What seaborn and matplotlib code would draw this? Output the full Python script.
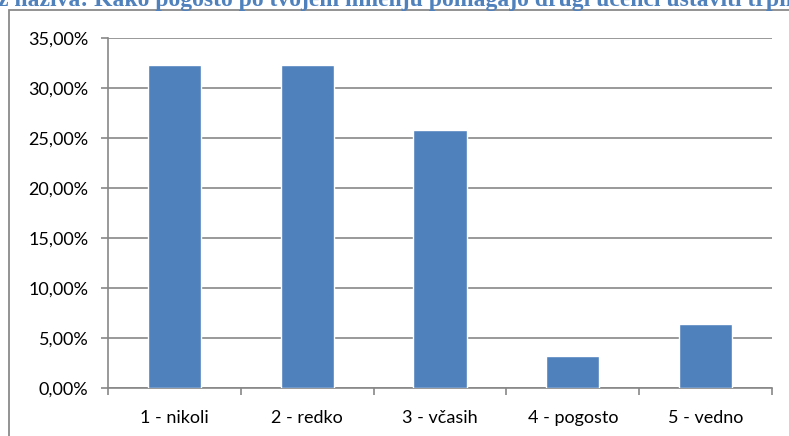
import matplotlib
matplotlib.use("Agg")
import matplotlib.pyplot as plt
import seaborn as sns
import pandas as pd
from matplotlib.patches import Rectangle
from matplotlib.ticker import MultipleLocator, FuncFormatter

categories = ["1 - nikoli", "2 - redko", "3 - včasih", "4 - pogosto", "5 - vedno"]
values = [32.26, 32.26, 25.81, 3.23, 6.45]
title_text = "z naziva: Kako pogosto po tvojem mnenju pomagajo drugi učenci ustaviti trpinčenje?"

df = pd.DataFrame({"cat": categories, "val": values})

sns.set_style("white")
plt.rcParams["font.family"] = ["Lato", "DejaVu Sans"]

W, H = 789, 436
fig = plt.figure(figsize=(W / 100, H / 100), dpi=100)
ax = fig.add_axes([108 / W, 1 - 388 / H, (772 - 108) / W, (388 - 38) / H])

sns.barplot(data=df, x="cat", y="val", color="#4F81BD", width=0.4, ax=ax,
            saturation=1, zorder=3)

grid_c = "#878787"
ax.set_ylim(0, 35)
ax.set_xlim(-0.5, len(categories) - 0.5)
ax.yaxis.set_major_locator(MultipleLocator(5))
ax.yaxis.set_major_formatter(FuncFormatter(lambda v, p: f"{v:.2f}%".replace(".", ",")))
ax.grid(axis="y", color=grid_c, linewidth=1.2, zorder=0)
ax.set_axisbelow(True)
for s in ["top", "right"]:
    ax.spines[s].set_visible(False)
for s in ["left", "bottom"]:
    ax.spines[s].set_color(grid_c)
    ax.spines[s].set_linewidth(1.2)
ax.set_xlabel("")
ax.set_ylabel("")

# x ticks at category boundaries, labels at centers
ax.set_xticks([i - 0.5 for i in range(len(categories) + 1)])
ax.set_xticklabels([])
ax.set_xticks(range(len(categories)), minor=True)
ax.set_xticklabels(categories, minor=True)
ax.tick_params(axis="x", which="major", length=5, width=1.2, color=grid_c, direction="out")
ax.tick_params(axis="x", which="minor", length=0, pad=16, labelsize=13, labelcolor="black")
ax.tick_params(axis="y", length=5, width=1.2, color=grid_c, direction="out", pad=9,
               labelsize=13, labelcolor="black")
ax.tick_params(left=True, bottom=True)

# outer chart frame
fig.patches.append(Rectangle((8.5 / W, -0.5), 2, 0.5 + 1 - 10.5 / H,
                             transform=fig.transFigure, fill=False,
                             edgecolor="#8a8a8a", linewidth=1.3))

fig.text(-2 / W, 1 - 6 / H, title_text, fontsize=17, fontweight="bold",
         family=["Liberation Serif", "DejaVu Serif"], color="#4F81BD",
         ha="left", va="baseline")

fig.savefig("out.png", dpi=100)
